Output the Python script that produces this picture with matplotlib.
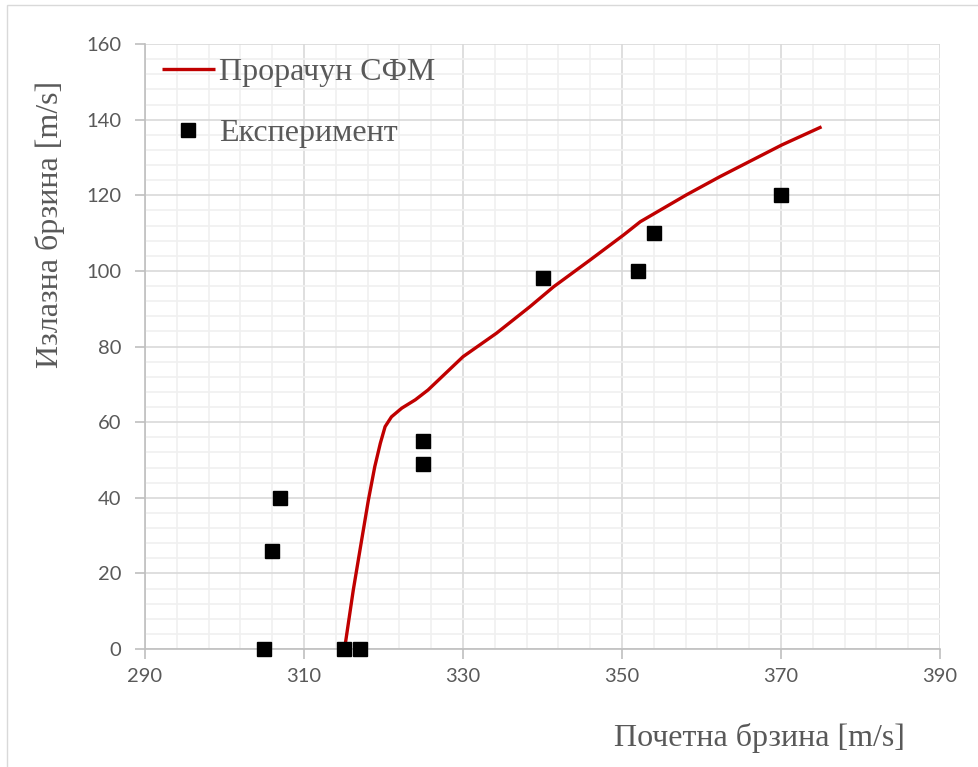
import numpy as np
import matplotlib.pyplot as plt
from matplotlib.patches import Rectangle

# Експеримент
exp_x = [305, 306, 307, 315, 317, 325, 325, 340, 352, 354, 370]
exp_y = [0, 26, 40, 0, 0, 55, 49, 98, 100, 110, 120]

# Прорачун СФМ
sfm_x = [315.1, 316.2, 317.25, 318.1, 318.9, 319.6, 320.2, 321.0, 322.3, 324.0,
         325.6, 330.0, 334.2, 338.4, 341.4, 346.0, 350.2, 352.3, 358.1, 362.3,
         370.1, 375.1]
sfm_y = [0, 15.6, 28.8, 39.4, 48.2, 54.4, 58.8, 61.4, 63.7, 65.9,
         68.5, 77.3, 83.5, 90.5, 95.8, 102.9, 109.5, 113.0, 120.1, 124.9,
         133.3, 138.1]

x_ticks = [290, 310, 330, 350, 370, 390]
y_ticks = [0, 20, 40, 60, 80, 100, 120, 140, 160]

grey = "#595959"
tick_font = "Lato"
serif = "Liberation Serif"

fig = plt.figure(figsize=(9.79, 7.67), dpi=100)
fig.patches.append(Rectangle((7 / 979, -0.01), 1.0, 1 - 5 / 767 + 0.01,
                             transform=fig.transFigure, fill=False,
                             edgecolor="#d9d9d9", linewidth=1))
ax = fig.add_axes([145 / 979, 1 - 649 / 767, 795 / 979, 605 / 767])

ax.set_xlim(290, 390)
ax.set_ylim(0, 160)
ax.set_xticks(x_ticks)
ax.set_yticks(y_ticks)
ax.set_xticks(np.arange(290, 391, 4), minor=True)
ax.set_yticks(np.arange(0, 161, 4), minor=True)

ax.grid(which="minor", color="#f0f0f0", linewidth=1.2)
ax.grid(which="major", color="#d9d9d9", linewidth=1.2)
ax.set_axisbelow(True)

for s in ["top", "right"]:
    ax.spines[s].set_visible(False)
for s in ["left", "bottom"]:
    ax.spines[s].set_color("#bfbfbf")
    ax.spines[s].set_linewidth(1.2)

ax.tick_params(which="major", direction="out", length=7, width=1.2,
               color="#bfbfbf", labelcolor=grey, labelsize=14.5)
ax.tick_params(which="minor", length=0)
ax.tick_params(axis="x", pad=7)
ax.tick_params(axis="y", pad=10)
for lab in ax.get_xticklabels() + ax.get_yticklabels():
    lab.set_fontfamily(tick_font)

ax.plot(sfm_x, sfm_y, color="#c00000", linewidth=2.4, label="Прорачун СФМ",
        solid_capstyle="butt", solid_joinstyle="round", zorder=3)
ax.plot(exp_x, exp_y, linestyle="none", marker="s", markersize=10.5,
        color="black", label="Експеримент", zorder=4, clip_on=False)

leg = ax.legend(loc="upper left", bbox_to_anchor=(-0.015, 1.025), frameon=False,
                prop={"family": serif, "size": 23}, labelcolor=grey,
                handlelength=1.66, handletextpad=0.12, labelspacing=1.0)

fig.text(905 / 979, 1 - 738 / 767, "Почетна брзина [m/s]", ha="right",
         va="center", fontfamily=serif, fontsize=23, color=grey)
fig.text(50 / 979, 1 - 224 / 767, "Излазна брзина [m/s]", ha="center",
         va="center", rotation=90, fontfamily=serif, fontsize=23, color=grey)

fig.savefig("out.png", dpi=100)
